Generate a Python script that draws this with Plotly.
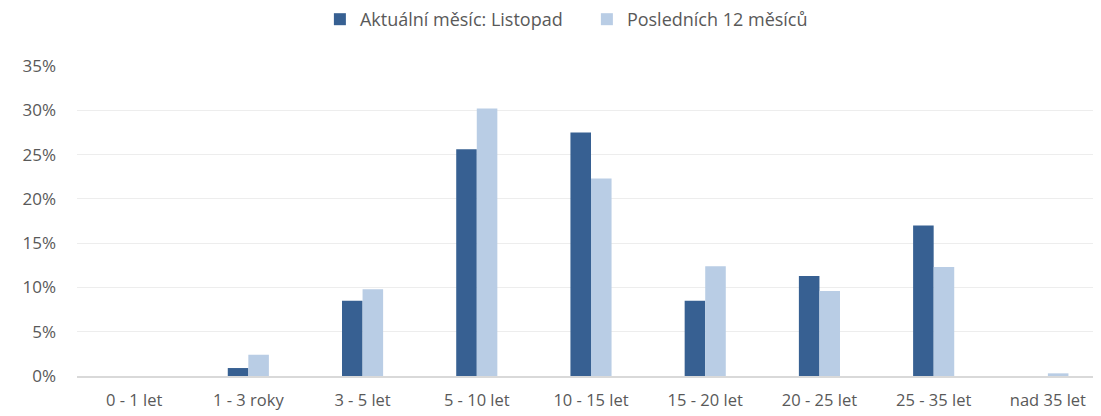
import plotly.graph_objects as go

categories = ["0 - 1 let", "1 - 3 roky", "3 - 5 let", "5 - 10 let", "10 - 15 let",
              "15 - 20 let", "20 - 25 let", "25 - 35 let", "nad 35 let"]
current_month = [0.0, 0.009, 0.085, 0.256, 0.275, 0.085, 0.113, 0.170, 0.0]
last_12_months = [0.0, 0.024, 0.098, 0.302, 0.223, 0.124, 0.096, 0.123, 0.003]
y_ticks = [0, 0.05, 0.10, 0.15, 0.20, 0.25, 0.30, 0.35]
y_tick_labels = ["0%", "5%", "10%", "15%", "20%", "25%", "30%", "35%"]

font_family = "Open Sans, Lato, sans-serif"
text_color = "#595959"

fig = go.Figure()
fig.add_trace(go.Bar(x=categories, y=current_month, name="Aktuální měsíc: Listopad",
                     marker=dict(color="#376092", line=dict(width=0))))
fig.add_trace(go.Bar(x=categories, y=last_12_months, name="Posledních 12 měsíců",
                     marker=dict(color="#B9CDE5", line=dict(width=0))))

fig.update_layout(
    width=1101, height=416,
    margin=dict(l=69, r=4, t=58, b=48, autoexpand=False),
    paper_bgcolor="white", plot_bgcolor="white",
    barmode="group", bargap=0.64, bargroupgap=0,
    font=dict(family=font_family, size=16, color=text_color),
    showlegend=True,
    legend=dict(orientation="h", x=0.496, xanchor="center", y=1.2097, yanchor="top",
                yref="paper", font=dict(size=18, color=text_color),
                itemwidth=30, entrywidth=222, entrywidthmode="pixels",
                traceorder="normal", bgcolor="rgba(0,0,0,0)"),
)
fig.update_xaxes(showgrid=False, showline=True, linecolor="#D9D9D9", linewidth=1.5,
                 ticks="", ticklabelstandoff=8,
                 tickfont=dict(size=16.5, color=text_color), fixedrange=True)
fig.update_yaxes(range=[0, 0.35], tickvals=y_ticks, ticktext=y_tick_labels,
                 showgrid=True, gridcolor="#EDEDED", gridwidth=1.2, zeroline=False,
                 showline=False, ticks="", ticklabelstandoff=20,
                 tickfont=dict(size=17, color=text_color), fixedrange=True)

fig.write_html("out.html")
